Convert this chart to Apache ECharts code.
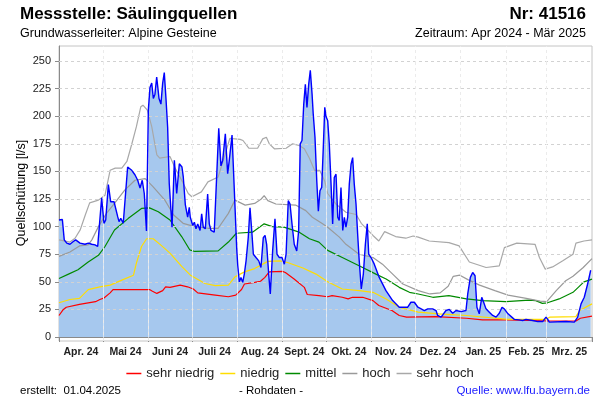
<!DOCTYPE html>
<html><head><meta charset="utf-8">
<script src="https://cdn.jsdelivr.net/npm/echarts@6/dist/echarts.min.js"></script>
<style>html,body{margin:0;padding:0;background:#fff}#c{width:600px;height:400px}</style>
</head><body><div id="c"></div>
<script>
// days since 2024-04-01
const monthStarts = [0,30,61,91,122,153,183,214,244,275,306,334,365];
const monthLabels = ['Apr. 24','Mai 24','Juni 24','Juli 24','Aug. 24','Sept. 24','Okt. 24','Nov. 24','Dez. 24','Jan. 25','Feb. 25','Mrz. 25'];
const yTicks = [0,25,50,75,100,125,150,175,200,225,250];
const seriesNames = ['sehr niedrig','niedrig','mittel','hoch','sehr hoch'];

const sehrNiedrig = [[0,19.5],[3,25],[5,27],[14,29.5],[25,32],[28,34],[31,35.5],[35,40],[37,43],[49,43],[62,43],[64,41.5],[67,39.5],[71,42],[73,45.5],[76,45],[83,47],[88,45.5],[92,43.5],[95,40],[107,38],[116,36.5],[121,38],[125,43],[127,48],[134,49.5],[138,50.5],[141,54],[144,59],[153,59.5],[155,58.5],[161,52.5],[168,45],[170,38.5],[178,37.5],[184,36.5],[187,37.5],[194,36],[198,34.5],[201,36],[208,36],[215,33],[219,28.5],[228,24],[233,19.5],[238,18],[258,18.5],[279,17],[290,15.5],[307,15.5],[336,14.5],[354,14.5],[357,17],[365,19]];

const niedrig = [[0,31],[7.5,34],[14,35],[20,43],[28,45.5],[35,47],[43,51.5],[51,56],[53,67],[56.5,82],[60,89],[64.5,89],[70,83],[76,76],[84,64],[90,56],[100,48.5],[107,46.5],[116,47],[120.5,54.5],[127,59],[134,62],[143,68.5],[151,69],[156.5,67.5],[167,62.5],[176,57],[184,50],[194,43.5],[205.5,42],[215,40.5],[224,34.5],[233,27],[246,22.5],[260,21],[279,19.5],[307.5,16],[333.5,16],[336,18],[354,18.5],[356.5,24],[365,30]];

const mittel = [[0,53],[6.5,57],[13,61],[20,68],[27,74],[31.5,82],[38,97],[47.5,107.5],[56.5,116.5],[62,117],[68,113.5],[76,106],[84,91],[89.5,79],[93,77.5],[109,78],[116,86],[121.5,94],[132.5,95],[140.5,102.5],[146,100],[154,99.5],[164.5,95],[171.5,89],[178,86],[184,78.5],[194,72],[205.5,64.5],[217,57],[224,52.5],[233,45],[240,40.5],[246,39],[256,36],[267,37.5],[279,34.5],[290,33],[306,32],[322,33.5],[326.5,33],[331,30.5],[334.5,31],[342.5,34.5],[352,40.5],[359.5,50],[365,52.5]];

const hoch = [[0,73],[7.5,77],[14,82.5],[20,83.5],[22.5,88],[27,100],[32.5,112],[38,121],[45,133],[52,142],[59,143.5],[64.5,136],[72.5,124],[78.5,110.5],[85,103],[93,100],[102,98.5],[109,98.5],[116,112],[120.5,124],[127.5,119.5],[134,121],[138.5,125],[140.5,128],[143,123.5],[148.5,120.5],[162,119.5],[169,114.5],[173.5,108.5],[180.5,102.5],[184,99.5],[192,90.5],[196.5,84],[205.5,75],[215,72],[221.5,66],[228.5,57],[235.5,48],[246,42],[254,39],[261,40],[266.5,46],[270,55],[274.5,56],[280,52],[288,47],[298.5,42],[307.5,38],[320,35],[329.5,32.5],[334,32],[340.5,42],[347,51],[352,55],[359,63],[365,71]];

const sehrHoch = [[0,88],[7.5,86],[11,89.5],[14.5,97],[18,110.5],[21,121.5],[27,124],[31.5,128.5],[35,151],[38.5,153],[43,153],[46.5,159],[50,175.5],[53,190.5],[56,208.5],[57.5,210],[60.5,205.5],[63.5,190.5],[67,165],[69,162],[76,163.5],[79.5,153],[84,142],[88.5,130],[91,127],[97.5,131.5],[102,140.5],[109,145],[112.5,160],[117,180],[124,179],[126,178],[130,171],[136,171],[139.5,179.5],[142,181],[144,175],[147.5,170.5],[155.5,171],[160,175],[164.5,173.5],[168,170.5],[171.5,162],[175,151],[178.5,151],[182,141],[184,130],[190,120],[196.5,113],[203.5,111],[207,103],[215,92],[219,87],[223,95.5],[230.5,91],[237.5,89.5],[242.5,91.5],[246,90.5],[253.5,87],[267,85.5],[274,82.5],[281,68],[292.5,63],[301.5,64.5],[305,81],[313.5,85],[326,84],[329,72],[333,61.5],[338,63.5],[345,69],[352,75],[354,85],[359.5,87],[365,88]];

const messwerte = [[0,106],[2.3,106.5],[3.6,88],[5.3,85],[7.5,84],[9.8,86.5],[11.4,88],[14.4,85],[17.8,84],[20.1,85],[22.4,84],[24.7,83.5],[26.5,82],[27.6,82.5],[29.2,126],[30.8,103],[32,106],[33.8,138],[35.4,122.5],[36.5,121],[37.7,122.5],[39,121],[40.2,109],[41.1,104.5],[42.3,107.5],[44,103],[45.2,103],[47,154],[47.9,154],[49.8,151],[52,147],[53.9,142],[55.5,135],[57,142],[58.4,130],[59.9,96],[61.2,206],[62.3,226],[63.5,230],[64.6,216],[65.7,220],[66.9,235.5],[68.5,216],[69.8,211],[71,230],[72.1,239.5],[73.3,215],[74.4,190],[75.5,139],[77.4,99.5],[79,160],[80.6,130],[82.4,157],[84.2,154],[85.1,145],[86.5,120],[88.1,108.5],[89.2,117.5],[89.9,108.5],[91.6,101],[92.7,104],[93.8,98],[95,102.5],[96.6,96.5],[97.7,111.5],[98.8,99.5],[100.2,98],[101.8,129.5],[102.9,102.5],[104.1,96.5],[105.3,98],[106.3,95],[107.5,131],[109.4,189],[110.9,155],[112.1,160],[113.9,184],[115.5,148],[116.6,160],[118.5,183],[120,135],[121.7,80],[122.4,65],[123.5,50],[124.6,54],[125.8,49.5],[126.9,57],[128.1,69],[129.6,90],[130.8,117],[132,96],[133.1,75],[134.9,72],[136.8,69],[138.3,63],[139.9,90],[141.1,92],[142.2,84],[143.6,57],[144.7,39],[146.3,78],[147.9,107],[149.3,75],[150.9,72],[152.7,72],[154.3,66],[155.5,75],[157,123.5],[158.2,120.5],[159.6,102],[161.1,84],[162.8,78],[164.1,96],[165.2,175],[166.4,178],[167.6,211],[168.7,229],[169.8,208],[171,229],[172.1,241.5],[173.3,220],[174.1,202],[175.3,181],[176.5,142],[177.6,114],[178.7,132.5],[179.9,135.5],[181,172],[182,208],[182.8,200],[184,196],[185.1,175],[186.3,138.5],[187.4,102.5],[188.5,144.5],[189.7,147.5],[190.9,108.5],[191.9,105.5],[193.1,135.5],[194.3,96.5],[195.4,108.5],[196.5,99.5],[197.7,108.5],[198.8,138.5],[200,156.5],[201.1,162.5],[202.2,138.5],[203.4,120.5],[204.5,93.5],[205.6,69],[207,43.5],[208.4,57],[209.8,84],[211.1,102.5],[212.1,75],[213.7,72],[215.9,66],[219.3,54],[223.9,42],[228.5,33],[233,27],[236.5,27],[238.8,27],[241,31.5],[243.3,31.5],[245.8,27],[246.7,25.5],[250.2,24],[252.5,25.5],[253.6,27],[255.9,25.5],[258.2,24],[259.3,19.5],[261.6,18],[262.8,20],[265,24],[267.3,25],[269.6,21.5],[271.9,24],[275.3,23],[278.7,24],[279.9,39],[281.7,54],[283.3,58.5],[284.9,55.5],[286.2,27],[287.8,21],[289.5,36],[290.8,31.5],[292.4,25.5],[294.7,22.5],[297,19.5],[299.3,18],[301.5,21.5],[303.4,27],[304.9,25.5],[307.5,21],[308.4,20.5],[311.8,16],[315.2,15.5],[317.5,15],[319.8,16],[324.4,15],[327.8,14],[331.2,14],[333.5,18],[334.7,16],[335.8,13.5],[347.2,14],[352.9,13.5],[355.2,18],[357.5,30],[359.7,36],[362,48],[364.1,60.5]];

const FONT = '"Liberation Sans", Arial, sans-serif';
const monthMids = monthLabels.map((_, i) => (monthStarts[i] + monthStarts[i + 1]) / 2);

const chart = echarts.init(document.getElementById('c'), null, { renderer: 'canvas' });

const statLine = (name, data, color, width) => ({
  name, type: 'line', data, symbol: 'none', z: 4, silent: true,
  lineStyle: { color, width }, itemStyle: { color }
});

const option = {
  animation: false,
  textStyle: { fontFamily: FONT },
  grid: { left: 59, right: 8, top: 46, bottom: 59, show: true, borderColor: '#c4c4c4', borderWidth: 1, backgroundColor: 'transparent' },
  xAxis: {
    type: 'value', min: 0, max: 365,
    axisLine: { show: true, lineStyle: { color: '#8a8a8a', width: 1 } },
    axisTick: { show: true, customValues: monthStarts, length: 5, lineStyle: { color: '#8a8a8a' } },
    axisLabel: {
      customValues: monthMids, margin: 6, fontSize: 10.5, fontWeight: 'bold', color: '#222', fontFamily: FONT,
      formatter: v => { const i = monthMids.findIndex(m => Math.abs(m - v) < 0.01); return i >= 0 ? monthLabels[i] : ''; }
    },
    splitLine: { show: false }
  },
  yAxis: {
    type: 'value', min: -3.6, max: 263.6,
    axisLine: { show: true, lineStyle: { color: '#8a8a8a', width: 1 } },
    axisTick: { show: true, customValues: yTicks, length: 4, lineStyle: { color: '#8a8a8a' } },
    axisLabel: { customValues: yTicks, margin: 8, fontSize: 11, color: '#222', fontFamily: FONT },
    splitLine: { show: false }
  },
  legend: {
    data: seriesNames, left: 'center', top: 362, icon: 'rect', itemWidth: 15, itemHeight: 1.5, itemGap: 6,
    textStyle: { fontSize: 13, color: '#222', fontFamily: FONT },
    selectedMode: false
  },
  series: [
    {
      name: 'grid', type: 'line', data: [], z: 1, silent: true,
      markLine: {
        silent: true, symbol: 'none', animation: false, label: { show: false },
        lineStyle: { color: '#d2d2d2', type: [3, 3], width: 1 },
        emphasis: { disabled: true },
        data: yTicks.slice(1).map(v => ({ yAxis: v })).concat(monthStarts.slice(1, -1).map(v => ({ xAxis: v })))
      }
    },
    {
      name: 'fill', type: 'line', data: messwerte, symbol: 'none', z: 2, silent: true,
      lineStyle: { width: 0 }, areaStyle: { color: '#a6c8ee', opacity: 1 }
    },
    {
      name: 'monthlines', type: 'line', data: [], z: 3, silent: true,
      markLine: {
        silent: true, symbol: 'none', animation: false, label: { show: false },
        lineStyle: { color: 'rgba(255,255,255,0.55)', type: 'solid', width: 1 },
        emphasis: { disabled: true },
        data: monthStarts.slice(1, -1).map(v => ({ xAxis: v }))
      }
    },
    statLine('sehr niedrig', sehrNiedrig, '#ff0000', 1.2),
    statLine('niedrig', niedrig, '#ffdd00', 1.2),
    statLine('mittel', mittel, '#008a00', 1.2),
    statLine('hoch', hoch, '#9a9a9a', 1.2),
    statLine('sehr hoch', sehrHoch, '#a8a8a8', 1.2),
    {
      name: 'Messwerte', type: 'line', data: messwerte, symbol: 'none', z: 5, silent: true,
      lineStyle: { color: '#0000ff', width: 1.4 }
    }
  ],
  graphic: [
    { type: 'text', x: 20, y: 14, style: { text: 'Messstelle: Säulingquellen', fontSize: 17, fontWeight: 'bold', fontFamily: FONT, fill: '#000', align: 'left', verticalAlign: 'middle' } },
    { type: 'text', x: 586, y: 14, style: { text: 'Nr: 41516', fontSize: 17, fontWeight: 'bold', fontFamily: FONT, fill: '#000', align: 'right', verticalAlign: 'middle' } },
    { type: 'text', x: 20, y: 34, style: { text: 'Grundwasserleiter: Alpine Gesteine', fontSize: 12.5, fontFamily: FONT, fill: '#000', align: 'left', verticalAlign: 'middle' } },
    { type: 'text', x: 586, y: 34, style: { text: 'Zeitraum: Apr 2024 - Mär 2025', fontSize: 12.5, fontFamily: FONT, fill: '#000', align: 'right', verticalAlign: 'middle' } },
    { type: 'text', x: 22, y: 193, rotation: Math.PI / 2, style: { text: 'Quellschüttung [l/s]', fontSize: 12.5, fontFamily: FONT, fill: '#000', align: 'center', verticalAlign: 'middle' } },
    { type: 'text', x: 20, y: 391, style: { text: 'erstellt:  01.04.2025', fontSize: 11.5, fontFamily: FONT, fill: '#000', align: 'left', verticalAlign: 'middle' } },
    { type: 'text', x: 271, y: 391, style: { text: '- Rohdaten -', fontSize: 11.5, fontFamily: FONT, fill: '#000', align: 'center', verticalAlign: 'middle' } },
    { type: 'text', x: 590, y: 391, style: { text: 'Quelle: www.lfu.bayern.de', fontSize: 11.5, fontFamily: FONT, fill: '#1a1aff', align: 'right', verticalAlign: 'middle' } }
  ]
};
chart.setOption(option);
</script>
</body></html>
